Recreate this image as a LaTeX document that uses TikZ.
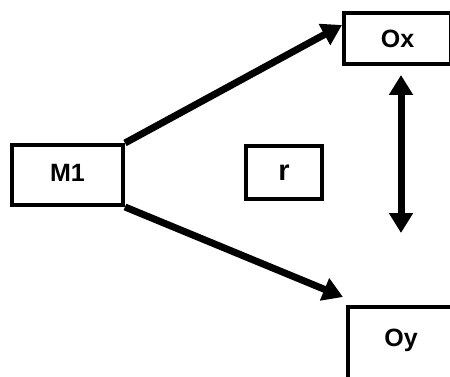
\documentclass[tikz,border=0pt]{standalone}
\usepackage{fontspec}
\setmainfont{Liberation Sans}
\usetikzlibrary{arrows.meta}
\begin{document}
\begin{tikzpicture}[x=1pt,y=-1pt,
  lbl/.style={font=\bfseries\fontsize{25}{28}\selectfont},
  box/.style={draw=black,line width=4pt,fill=white,inner sep=0pt,lbl},
  bigarrow/.style={line width=7pt,-{Triangle[length=20pt,width=23pt]}},
  dblarrow/.style={line width=7pt,{Triangle[length=20pt,width=23pt]}-{Triangle[length=20pt,width=23pt]}}]
\useasboundingbox (0,0) rectangle (450,377);
\clip (0,0) rectangle (450,377);
\node[box,minimum width=111pt,minimum height=60pt] (m1) at (67.5,175) {\raisebox{4pt}{M1}};
\node[box,minimum width=107pt,minimum height=51pt] (ox) at (397.5,38.5) {\raisebox{-4pt}{Ox}};
\node[box,minimum width=110pt,minimum height=80pt] (oy) at (403,347) {};
\node[lbl,inner sep=0pt] (oyt) at (401,340) {Oy};
\node[box,minimum width=76pt,minimum height=53pt] (r) at (284,172.5) {\raisebox{-5pt}{\fontsize{29}{32}\selectfont r}};
\coordinate (t1) at (342,25);
\coordinate (t2) at (343,297);
\coordinate (d1) at (401,75);
\coordinate (d2) at (401,233);
\draw[bigarrow] (m1.north east) -- (t1);
\draw[bigarrow] (m1.south east) -- (t2);
\draw[dblarrow] (d1) -- (d2);
\end{tikzpicture}
\end{document}
